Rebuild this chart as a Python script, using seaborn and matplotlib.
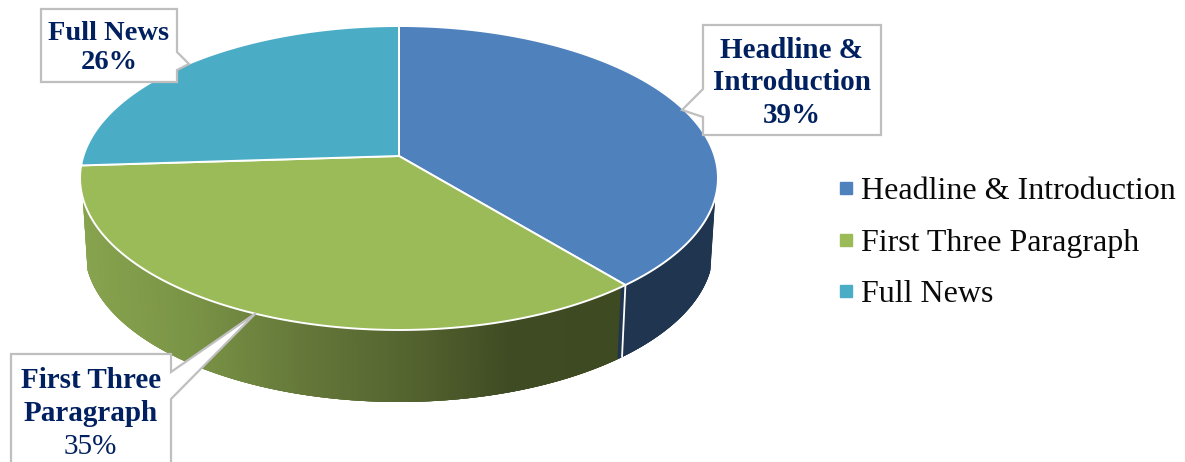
import numpy as np
import matplotlib
matplotlib.use("Agg")
import matplotlib.pyplot as plt
from matplotlib.lines import Line2D
from matplotlib.patches import Polygon
import seaborn as sns

# Chart data
categories = ["Headline & Introduction", "First Three Paragraph", "Full News"]
shares = [39, 35, 26]
callout_titles = ["Headline &\nIntroduction", "First Three\nParagraph", "Full News"]
top_colors = ["#4F81BD", "#9BBB59", "#4BACC6"]

sns.set_theme(style="white")
plt.rcParams["font.family"] = ["Liberation Serif", "DejaVu Serif"]

palette = sns.color_palette(top_colors)
green_wall = sns.blend_palette(["#87A34E", "#7A9446", "#66793A", "#556530", "#3F4B23", "#3E4A22"], 256)
blue_wall = "#1F3550"
label_navy = "#002060"
box_grey = "#BFBFBF"

fig = plt.figure(figsize=(11.85, 4.62), dpi=100)
ax = fig.add_axes([0, 0, 1, 1])
ax.set_xlim(0, 1185)
ax.set_ylim(462, 0)
ax.axis("off")

# Perspective projection of the pie disc on the canvas
CX, CY = 399.0, 156.0
K, A, C = 0.1447, 148.8, 315.6
DEPTH, BOTTOM_SCALE = 72.0, 0.985


def rim(theta, bottom=False):
    """Canvas position of the rim at a clockwise angle from 12 o'clock."""
    w = 1 + K * np.cos(theta)
    x = C * np.sin(theta) / w
    y = A * np.cos(theta) / w
    if bottom:
        return CX + BOTTOM_SCALE * x, CY + DEPTH - y
    return CX + x, CY - y


fractions = np.array(shares) / np.sum(shares)
edges = np.concatenate([[0], np.cumsum(fractions)]) * 2 * np.pi

# Side wall: overlapping slices painted left to right, so no seams show
wall_left = np.deg2rad(254.3)
wall_right = np.deg2rad(105.7)
thetas = np.linspace(wall_left, wall_right, 500)
for a, b in zip(thetas[:-1], thetas[1:]):
    overlap = a + 3 * (a - b)
    a_used = min(overlap, wall_left)
    span = np.array([a_used, b])
    xt, yt = rim(span)
    xb, yb = rim(span[::-1], bottom=True)
    mid = 0.5 * (a + b)
    if mid < edges[1]:
        color = blue_wall
    else:
        pos = np.clip((rim(mid)[0] - 85) / (624 - 85), 0, 1)
        color = green_wall[int(pos * 255)]
    ax.fill(np.r_[xt, xb], np.r_[yt, yb], facecolor=color, edgecolor="none", lw=0, zorder=1)

# Seam between the two visible wall sections
seam_x = [rim(edges[1])[0], rim(edges[1], bottom=True)[0]]
seam_y = [rim(edges[1])[1], rim(edges[1], bottom=True)[1]]
ax.plot(seam_x, seam_y, color="white", lw=1.3, zorder=2)

# Top face of the pie
for start, stop, color in zip(edges[:-1], edges[1:], palette):
    t = np.linspace(start, stop, 200)
    xs, ys = rim(t)
    ax.fill(np.r_[CX, xs], np.r_[CY, ys], facecolor=color, edgecolor="white",
            lw=1.4, joinstyle="round", zorder=3)


def callout(points):
    ax.add_patch(Polygon(points, closed=True, facecolor="white", edgecolor=box_grey,
                         lw=1.6, joinstyle="miter", zorder=4, clip_on=True))


# Data callouts: box outline with a pointer towards its slice
callout([(703, 25), (881, 25), (881, 135), (703, 135), (703, 117), (682, 110), (703, 89)])
callout([(41, 9), (177, 9), (177, 52), (189, 64), (177, 70), (177, 82), (41, 82)])
callout([(11, 354), (171, 354), (171, 372), (256, 313), (171, 399), (171, 475), (11, 475)])

LABEL_SIZE = 21
SPACING = 1.26
ax.text(792, 83, f"{callout_titles[0]}\n{shares[0]}%", ha="center", va="center",
        color=label_navy, fontsize=LABEL_SIZE, fontweight="bold", linespacing=SPACING, zorder=5)
ax.text(109, 48, f"{callout_titles[2]}\n{shares[2]}%", ha="center", va="center",
        color=label_navy, fontsize=LABEL_SIZE - 0.5, fontweight="bold", linespacing=SPACING, zorder=5)
ax.text(91, 397, callout_titles[1], ha="center", va="center",
        color=label_navy, fontsize=LABEL_SIZE, fontweight="bold", linespacing=SPACING, zorder=5)
ax.text(90, 447, f"{shares[1]}%", ha="center", va="center",
        color=label_navy, fontsize=LABEL_SIZE, zorder=5)

# Legend
handles = [Line2D([], [], linestyle="none", marker="s", markersize=8,
                  markerfacecolor=c, markeredgecolor=c) for c in palette]
ax.legend(handles, categories, loc="center left", bbox_to_anchor=(837, 243),
          bbox_transform=ax.transData, frameon=False, fontsize=23,
          labelspacing=0.70, handlelength=0.55, handletextpad=0.19, borderpad=0, borderaxespad=0,
          labelcolor="#0A0A0A")

fig.savefig("out.png", dpi=100, facecolor="white")
